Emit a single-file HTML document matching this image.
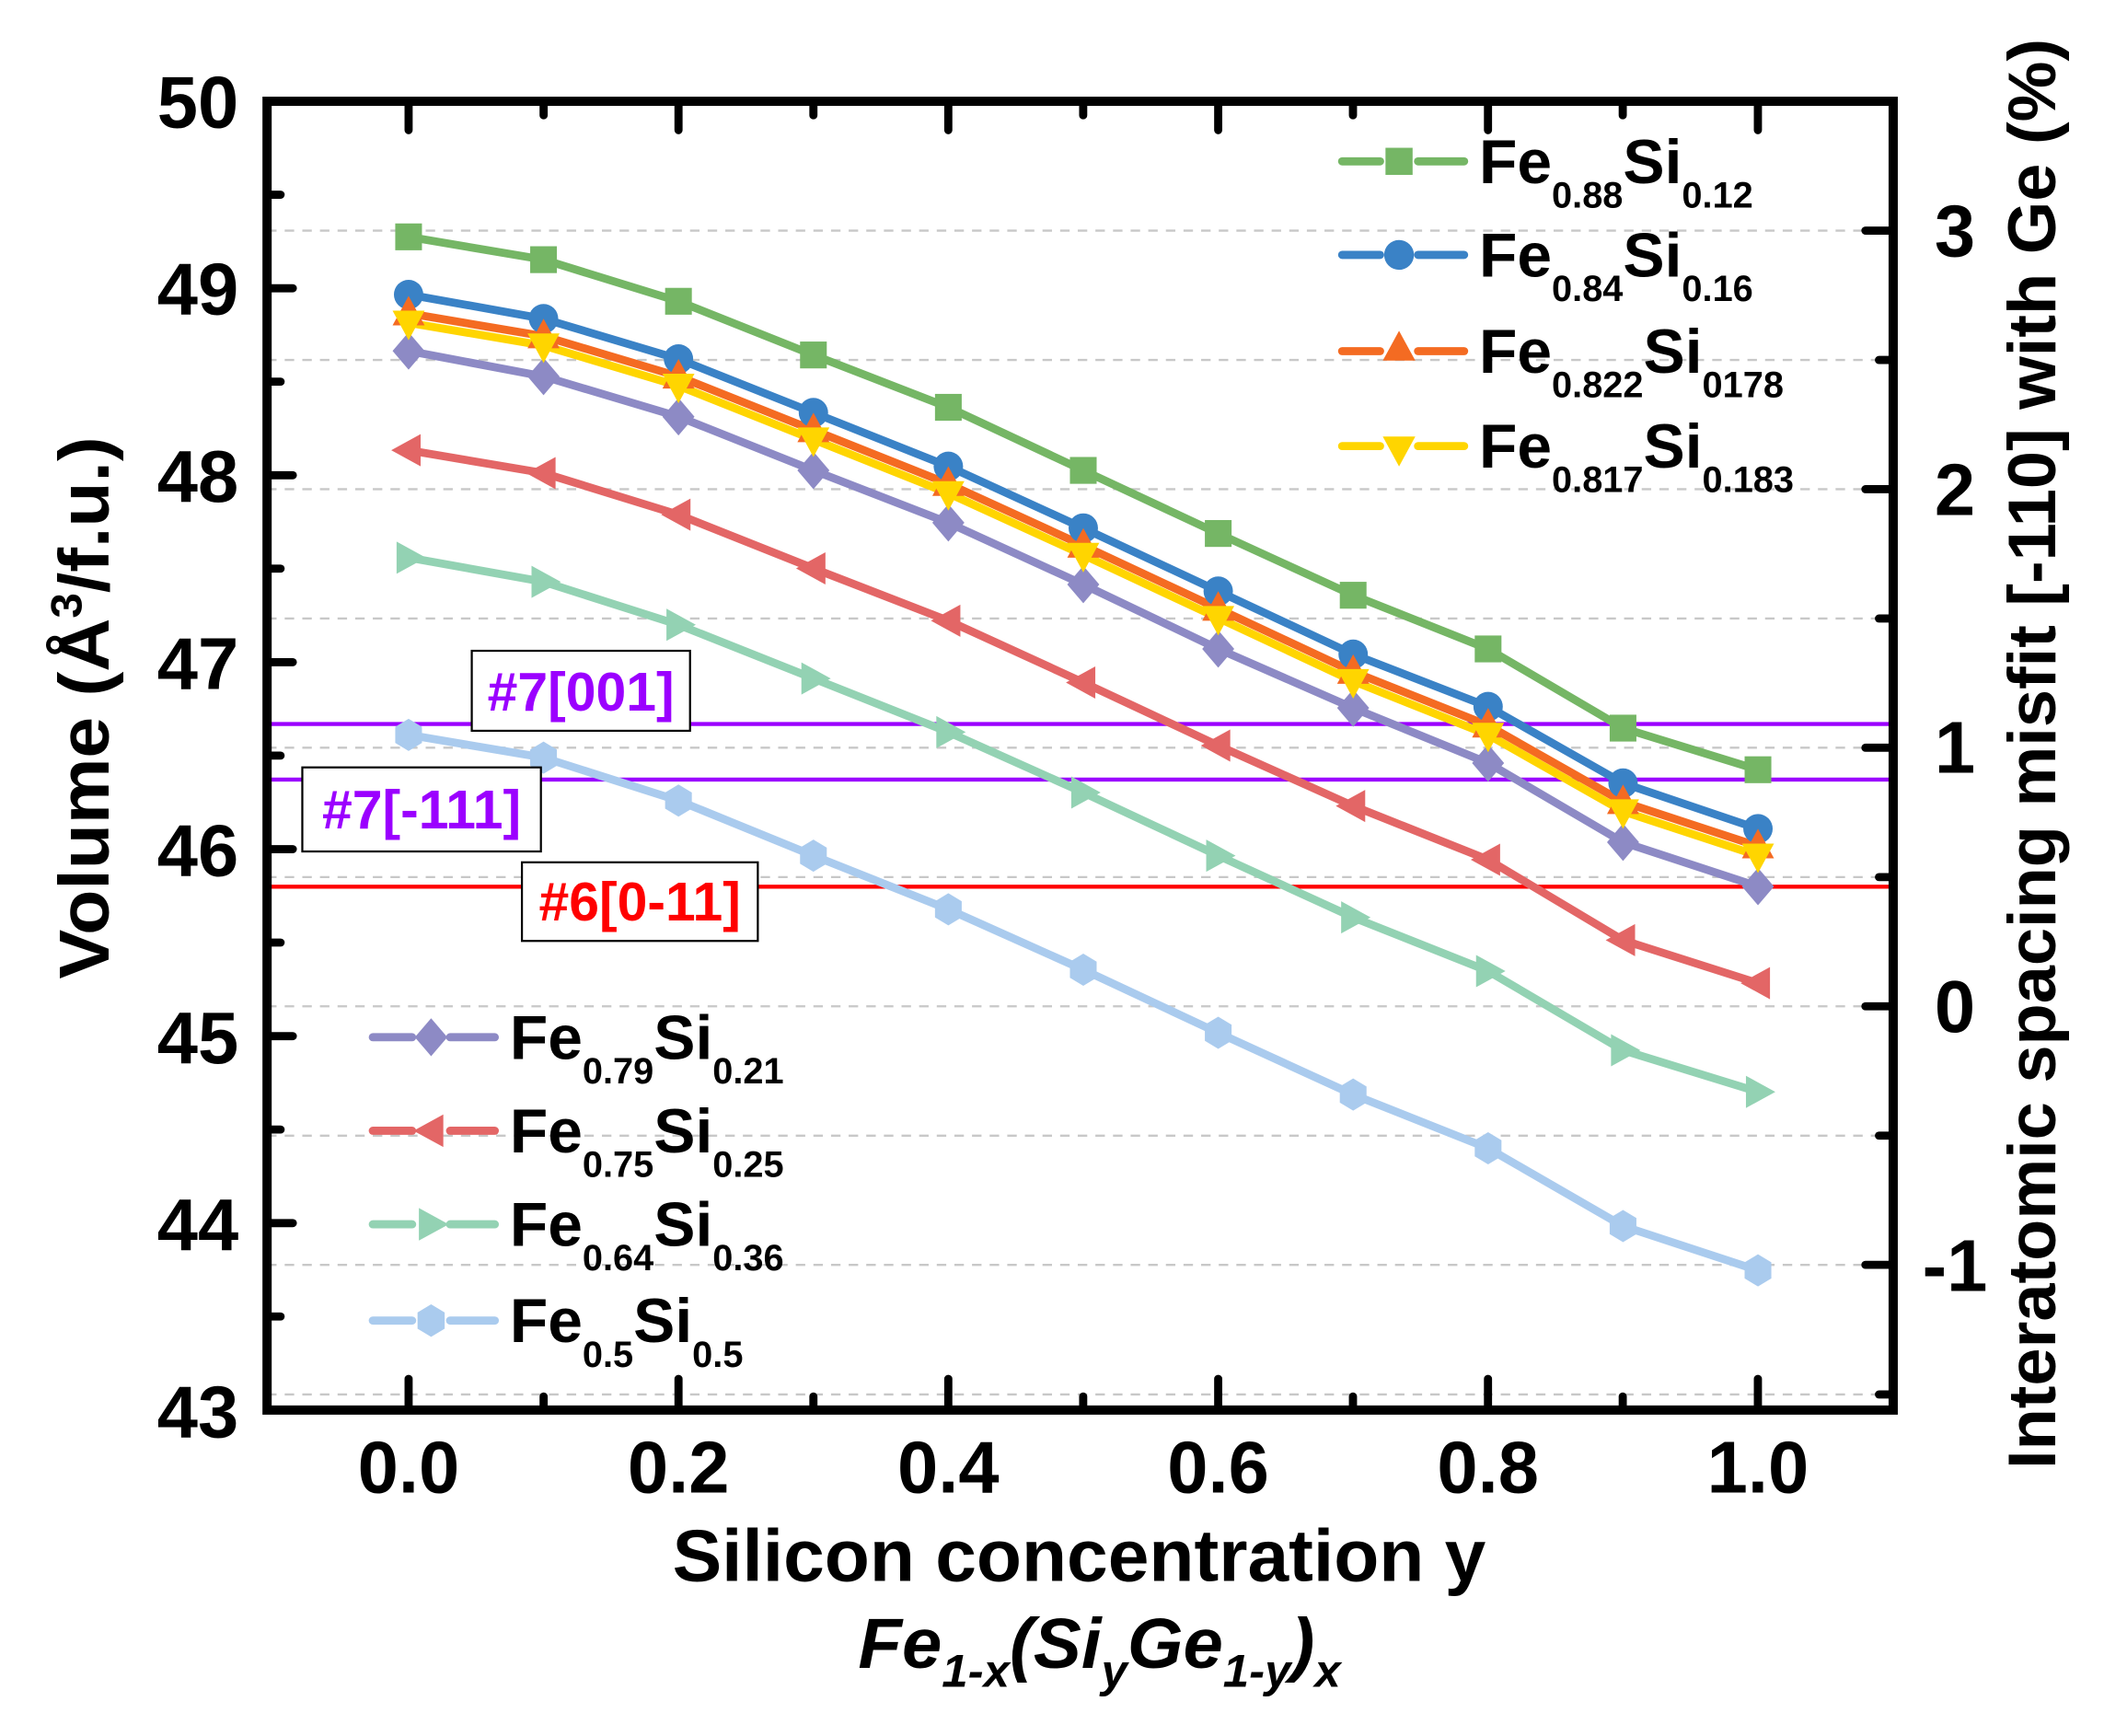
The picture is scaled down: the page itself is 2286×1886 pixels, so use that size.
<!DOCTYPE html>
<html><head><meta charset="utf-8"><style>
html,body{margin:0;padding:0;background:#fff;}
svg{display:block;}
text{font-family:"Liberation Sans",Arial,sans-serif;font-weight:bold;}
</style></head><body>
<svg width="2286" height="1886" viewBox="0 0 1552 1280.4" preserveAspectRatio="none" xmlns="http://www.w3.org/2000/svg">
<defs>
<rect id="sq" x="-10" y="-10" width="20" height="20"/>
<circle id="ci" r="11"/>
<polygon id="tu" points="0,-13 12,9 -12,9"/>
<polygon id="td" points="0,13 12,-9 -12,-9"/>
<polygon id="di" points="0,-14 12,0 0,14 -12,0"/>
<polygon id="tl" points="-13,0 9,-12 9,12"/>
<polygon id="tr" points="13,0 -9,-12 -9,12"/>
<polygon id="hx" points="0,-12 10,-6 10,6 0,12 -10,6 -10,-6"/>
</defs>
<!-- gridlines -->
<g stroke="#c8c8c8" stroke-width="1.6" stroke-dasharray="7,6">
<line x1="197" x2="1396" y1="170.1" y2="170.1"/>
<line x1="197" x2="1396" y1="265.5" y2="265.5"/>
<line x1="197" x2="1396" y1="360.8" y2="360.8"/>
<line x1="197" x2="1396" y1="456.2" y2="456.2"/>
<line x1="197" x2="1396" y1="551.5" y2="551.5"/>
<line x1="197" x2="1396" y1="646.9" y2="646.9"/>
<line x1="197" x2="1396" y1="742.2" y2="742.2"/>
<line x1="197" x2="1396" y1="837.6" y2="837.6"/>
<line x1="197" x2="1396" y1="932.9" y2="932.9"/>
<line x1="197" x2="1396" y1="1028.5" y2="1028.5"/>
</g>
<!-- reference lines -->
<line x1="197" x2="1396" y1="534" y2="534" stroke="#9b00ff" stroke-width="3"/>
<line x1="197" x2="1396" y1="575" y2="575" stroke="#9b00ff" stroke-width="3"/>
<line x1="197" x2="1396" y1="654" y2="654" stroke="#ff0000" stroke-width="3"/>
<!-- data -->
<g transform="matrix(0.9855,0,0,0.990,5.75,0.45)" stroke-width="6" fill="none" stroke-linejoin="round">
<polyline stroke="#aacbee" points="300,547 401,564 502,596 603,637 704,677 805,722 906,769 1007,815 1108,855 1209,913 1310,946"/>
<polyline stroke="#93d2b3" points="300,415 401,433 502,465 603,505 704,545 805,590 906,637 1007,683 1108,723 1209,782 1310,813"/>
<polyline stroke="#e36666" points="300,335 401,352 502,383 603,423 704,462 805,508 906,555 1007,600 1108,640 1209,700 1310,732"/>
<polyline stroke="#8d8ac5" points="300,261 401,280 502,310 603,350 704,389 805,435 906,483 1007,527 1108,568 1209,627 1310,660"/>
<polyline stroke="#ffd500" points="300,240 401,257 502,287 603,327 704,367 805,413 906,460 1007,507 1108,547 1209,604 1310,637"/>
<polyline stroke="#f46b22" points="300,233 401,250 502,280 603,320 704,360 805,406 906,453 1007,500 1108,540 1209,597 1310,630"/>
<polyline stroke="#3a82c6" points="300,219 401,237 502,267 603,307 704,347 805,393 906,440 1007,487 1108,526 1209,583 1310,617"/>
<polyline stroke="#75b665" points="300,176 401,193 502,224 603,264 704,303 805,350 906,397 1007,443 1108,483 1209,542 1310,573"/>
</g>
<g transform="matrix(0.9855,0,0,0.990,5.75,0.45)">
<g fill="#aacbee"><use href="#hx" x="300" y="547"/><use href="#hx" x="401" y="564"/><use href="#hx" x="502" y="596"/><use href="#hx" x="603" y="637"/><use href="#hx" x="704" y="677"/><use href="#hx" x="805" y="722"/><use href="#hx" x="906" y="769"/><use href="#hx" x="1007" y="815"/><use href="#hx" x="1108" y="855"/><use href="#hx" x="1209" y="913"/><use href="#hx" x="1310" y="946"/></g>
<g fill="#93d2b3"><use href="#tr" x="300" y="415"/><use href="#tr" x="401" y="433"/><use href="#tr" x="502" y="465"/><use href="#tr" x="603" y="505"/><use href="#tr" x="704" y="545"/><use href="#tr" x="805" y="590"/><use href="#tr" x="906" y="637"/><use href="#tr" x="1007" y="683"/><use href="#tr" x="1108" y="723"/><use href="#tr" x="1209" y="782"/><use href="#tr" x="1310" y="813"/></g>
<g fill="#e36666"><use href="#tl" x="300" y="335"/><use href="#tl" x="401" y="352"/><use href="#tl" x="502" y="383"/><use href="#tl" x="603" y="423"/><use href="#tl" x="704" y="462"/><use href="#tl" x="805" y="508"/><use href="#tl" x="906" y="555"/><use href="#tl" x="1007" y="600"/><use href="#tl" x="1108" y="640"/><use href="#tl" x="1209" y="700"/><use href="#tl" x="1310" y="732"/></g>
<g fill="#8d8ac5"><use href="#di" x="300" y="261"/><use href="#di" x="401" y="280"/><use href="#di" x="502" y="310"/><use href="#di" x="603" y="350"/><use href="#di" x="704" y="389"/><use href="#di" x="805" y="435"/><use href="#di" x="906" y="483"/><use href="#di" x="1007" y="527"/><use href="#di" x="1108" y="568"/><use href="#di" x="1209" y="627"/><use href="#di" x="1310" y="660"/></g>
<g fill="#3a82c6"><use href="#ci" x="300" y="219"/><use href="#ci" x="401" y="237"/><use href="#ci" x="502" y="267"/><use href="#ci" x="603" y="307"/><use href="#ci" x="704" y="347"/><use href="#ci" x="805" y="393"/><use href="#ci" x="906" y="440"/><use href="#ci" x="1007" y="487"/><use href="#ci" x="1108" y="526"/><use href="#ci" x="1209" y="583"/><use href="#ci" x="1310" y="617"/></g>
<g fill="#f46b22"><use href="#tu" x="300" y="233"/><use href="#tu" x="401" y="250"/><use href="#tu" x="502" y="280"/><use href="#tu" x="603" y="320"/><use href="#tu" x="704" y="360"/><use href="#tu" x="805" y="406"/><use href="#tu" x="906" y="453"/><use href="#tu" x="1007" y="500"/><use href="#tu" x="1108" y="540"/><use href="#tu" x="1209" y="597"/><use href="#tu" x="1310" y="630"/></g>
<g fill="#ffd500"><use href="#td" x="300" y="240"/><use href="#td" x="401" y="257"/><use href="#td" x="502" y="287"/><use href="#td" x="603" y="327"/><use href="#td" x="704" y="367"/><use href="#td" x="805" y="413"/><use href="#td" x="906" y="460"/><use href="#td" x="1007" y="507"/><use href="#td" x="1108" y="547"/><use href="#td" x="1209" y="604"/><use href="#td" x="1310" y="637"/></g>
<g fill="#75b665"><use href="#sq" x="300" y="176"/><use href="#sq" x="401" y="193"/><use href="#sq" x="502" y="224"/><use href="#sq" x="603" y="264"/><use href="#sq" x="704" y="303"/><use href="#sq" x="805" y="350"/><use href="#sq" x="906" y="397"/><use href="#sq" x="1007" y="443"/><use href="#sq" x="1108" y="483"/><use href="#sq" x="1209" y="542"/><use href="#sq" x="1310" y="573"/></g>
</g>
<!-- annotation boxes -->
<rect x="348" y="480" width="161" height="59" fill="#fff" stroke="#000" stroke-width="1.5"/>
<text x="428.5" y="524" font-size="40" fill="#9b00ff" text-anchor="middle">#7[001]</text>
<rect x="223" y="566" width="176" height="62" fill="#fff" stroke="#000" stroke-width="1.5"/>
<text x="311" y="611" font-size="40" fill="#9b00ff" text-anchor="middle">#7[-111]</text>
<rect x="385" y="636" width="174" height="58" fill="#fff" stroke="#000" stroke-width="1.5"/>
<text x="472" y="679" font-size="40" fill="#ff0000" text-anchor="middle">#6[0-11]</text>
<!-- axes frame -->
<rect x="197" y="74.7" width="1199.5" height="965.3" fill="none" stroke="#000" stroke-width="6.8"/>
<g stroke="#000" stroke-width="6" stroke-linecap="round">
<line x1="301.4" x2="301.4" y1="1040" y2="1017"/><line x1="500.5" x2="500.5" y1="1040" y2="1017"/><line x1="699.5" x2="699.5" y1="1040" y2="1017"/><line x1="898.6" x2="898.6" y1="1040" y2="1017"/><line x1="1097.6" x2="1097.6" y1="1040" y2="1017"/><line x1="1296.7" x2="1296.7" y1="1040" y2="1017"/>
<line x1="401" x2="401" y1="1040" y2="1030"/><line x1="600" x2="600" y1="1040" y2="1030"/><line x1="799" x2="799" y1="1040" y2="1030"/><line x1="998" x2="998" y1="1040" y2="1030"/><line x1="1197" x2="1197" y1="1040" y2="1030"/>
<line x1="301.4" x2="301.4" y1="74.7" y2="96"/><line x1="500.5" x2="500.5" y1="74.7" y2="96"/><line x1="699.5" x2="699.5" y1="74.7" y2="96"/><line x1="898.6" x2="898.6" y1="74.7" y2="96"/><line x1="1097.6" x2="1097.6" y1="74.7" y2="96"/><line x1="1296.7" x2="1296.7" y1="74.7" y2="96"/>
<line x1="401" x2="401" y1="74.7" y2="85"/><line x1="600" x2="600" y1="74.7" y2="85"/><line x1="799" x2="799" y1="74.7" y2="85"/><line x1="998" x2="998" y1="74.7" y2="85"/><line x1="1197" x2="1197" y1="74.7" y2="85"/>
<line x1="197" x2="216" y1="212.6" y2="212.6"/><line x1="197" x2="216" y1="350.5" y2="350.5"/><line x1="197" x2="216" y1="488.4" y2="488.4"/><line x1="197" x2="216" y1="626.3" y2="626.3"/><line x1="197" x2="216" y1="764.2" y2="764.2"/><line x1="197" x2="216" y1="902.1" y2="902.1"/>
<line x1="197" x2="207" y1="143.6" y2="143.6"/><line x1="197" x2="207" y1="281.5" y2="281.5"/><line x1="197" x2="207" y1="419.4" y2="419.4"/><line x1="197" x2="207" y1="557.3" y2="557.3"/><line x1="197" x2="207" y1="695.2" y2="695.2"/><line x1="197" x2="207" y1="833.1" y2="833.1"/><line x1="197" x2="207" y1="971" y2="971"/>
<line x1="1396.5" x2="1376" y1="170.1" y2="170.1"/><line x1="1396.5" x2="1376" y1="360.8" y2="360.8"/><line x1="1396.5" x2="1376" y1="551.5" y2="551.5"/><line x1="1396.5" x2="1376" y1="742.2" y2="742.2"/><line x1="1396.5" x2="1376" y1="932.9" y2="932.9"/>
<line x1="1396.5" x2="1386" y1="265.5" y2="265.5"/><line x1="1396.5" x2="1386" y1="456.2" y2="456.2"/><line x1="1396.5" x2="1386" y1="646.9" y2="646.9"/><line x1="1396.5" x2="1386" y1="837.6" y2="837.6"/><line x1="1396.5" x2="1386" y1="1028.5" y2="1028.5"/>
</g>
<!-- tick labels -->
<g font-size="54" text-anchor="end">
<text x="176" y="94">50</text><text x="176" y="232">49</text><text x="176" y="370">48</text><text x="176" y="508">47</text><text x="176" y="646">46</text><text x="176" y="784">45</text><text x="176" y="922">44</text><text x="176" y="1060">43</text>
</g>
<g font-size="54" text-anchor="middle">
<text x="301.4" y="1101">0.0</text><text x="500.5" y="1101">0.2</text><text x="699.5" y="1101">0.4</text><text x="898.6" y="1101">0.6</text><text x="1097.6" y="1101">0.8</text><text x="1296.7" y="1101">1.0</text>
</g>
<g font-size="54" text-anchor="middle">
<text x="1442" y="189">3</text><text x="1442" y="380">2</text><text x="1442" y="570">1</text><text x="1442" y="761">0</text><text x="1442" y="952">-1</text>
</g>
<!-- axis titles -->
<text x="796" y="1166" font-size="54" text-anchor="middle" textLength="600" lengthAdjust="spacingAndGlyphs">Silicon concentration y</text>
<text x="633" y="1230" font-size="52" font-style="italic" textLength="356" lengthAdjust="spacingAndGlyphs">Fe<tspan font-size="34" dy="14">1-x</tspan><tspan dy="-14">(Si</tspan><tspan font-size="34" dy="14">y</tspan><tspan dy="-14">Ge</tspan><tspan font-size="34" dy="14">1-y</tspan><tspan dy="-14">)</tspan><tspan font-size="34" dy="14">x</tspan></text>
<text transform="translate(80,522) rotate(-90)" font-size="52" text-anchor="middle" textLength="400" lengthAdjust="spacingAndGlyphs">Volume (Å<tspan font-size="32" dy="-20">3</tspan><tspan dy="20">/f.u.)</tspan></text>
<text transform="translate(1516,556) rotate(-90)" font-size="50" text-anchor="middle" textLength="1055" lengthAdjust="spacingAndGlyphs">Interatomic spacing misfit [-110] with Ge (%)</text>
<!-- legend top-right -->
<g stroke-width="6" stroke-linecap="round">
<line x1="990" x2="1018" y1="119" y2="119" stroke="#75b665"/><line x1="1046" x2="1080" y1="119" y2="119" stroke="#75b665"/>
<line x1="990" x2="1018" y1="188" y2="188" stroke="#3a82c6"/><line x1="1046" x2="1080" y1="188" y2="188" stroke="#3a82c6"/>
<line x1="990" x2="1018" y1="259" y2="259" stroke="#f46b22"/><line x1="1046" x2="1080" y1="259" y2="259" stroke="#f46b22"/>
<line x1="990" x2="1018" y1="329" y2="329" stroke="#ffd500"/><line x1="1046" x2="1080" y1="329" y2="329" stroke="#ffd500"/>
</g>
<use href="#sq" x="1032" y="119" fill="#75b665"/>
<use href="#ci" x="1032" y="188" fill="#3a82c6"/>
<use href="#tu" x="1032" y="257" fill="#f46b22"/>
<use href="#td" x="1032" y="331" fill="#ffd500"/>
<g font-size="46">
<text x="1091" y="135">Fe<tspan font-size="27" dy="18">0.88</tspan><tspan dy="-18">Si</tspan><tspan font-size="27" dy="18">0.12</tspan></text>
<text x="1091" y="204">Fe<tspan font-size="27" dy="18">0.84</tspan><tspan dy="-18">Si</tspan><tspan font-size="27" dy="18">0.16</tspan></text>
<text x="1091" y="275">Fe<tspan font-size="27" dy="18">0.822</tspan><tspan dy="-18">Si</tspan><tspan font-size="27" dy="18">0178</tspan></text>
<text x="1091" y="345">Fe<tspan font-size="27" dy="18">0.817</tspan><tspan dy="-18">Si</tspan><tspan font-size="27" dy="18">0.183</tspan></text>
</g>
<!-- legend bottom-left -->
<g stroke-width="6" stroke-linecap="round">
<line x1="275" x2="304" y1="765" y2="765" stroke="#8d8ac5"/><line x1="332" x2="365" y1="765" y2="765" stroke="#8d8ac5"/>
<line x1="275" x2="304" y1="834" y2="834" stroke="#e36666"/><line x1="332" x2="365" y1="834" y2="834" stroke="#e36666"/>
<line x1="275" x2="304" y1="903" y2="903" stroke="#93d2b3"/><line x1="332" x2="365" y1="903" y2="903" stroke="#93d2b3"/>
<line x1="275" x2="304" y1="974" y2="974" stroke="#aacbee"/><line x1="332" x2="365" y1="974" y2="974" stroke="#aacbee"/>
</g>
<use href="#di" x="318" y="765" fill="#8d8ac5"/>
<use href="#tl" x="318" y="834" fill="#e36666"/>
<use href="#tr" x="318" y="903" fill="#93d2b3"/>
<use href="#hx" x="318" y="974" fill="#aacbee"/>
<g font-size="46">
<text x="376" y="781">Fe<tspan font-size="27" dy="18">0.79</tspan><tspan dy="-18">Si</tspan><tspan font-size="27" dy="18">0.21</tspan></text>
<text x="376" y="850">Fe<tspan font-size="27" dy="18">0.75</tspan><tspan dy="-18">Si</tspan><tspan font-size="27" dy="18">0.25</tspan></text>
<text x="376" y="919">Fe<tspan font-size="27" dy="18">0.64</tspan><tspan dy="-18">Si</tspan><tspan font-size="27" dy="18">0.36</tspan></text>
<text x="376" y="990">Fe<tspan font-size="27" dy="18">0.5</tspan><tspan dy="-18">Si</tspan><tspan font-size="27" dy="18">0.5</tspan></text>
</g>
</svg>
</body></html>
